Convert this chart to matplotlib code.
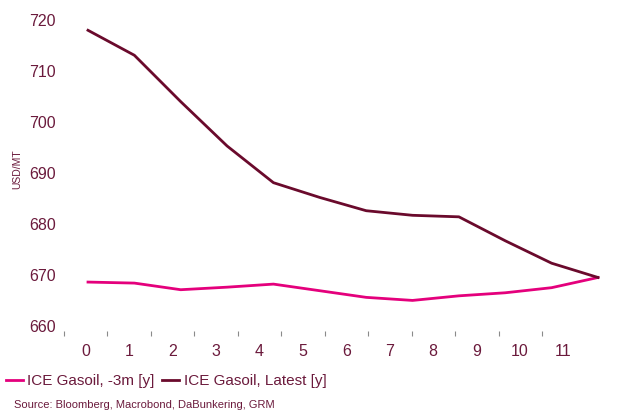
import matplotlib
matplotlib.use("Agg")
import matplotlib.pyplot as plt
from matplotlib.lines import Line2D

# Forward curve, contract months ahead
months = list(range(12))
gasoil_3m = [668.6, 668.4, 667.1, 667.6, 668.2, 666.9, 665.6, 665.0, 665.9, 666.5, 667.5, 669.5]
gasoil_latest = [718.0, 713.1, 704.0, 695.3, 688.1, 685.2, 682.6, 681.7, 681.4, 676.7, 672.3, 669.5]
x_tick_labels = [str(m) for m in months]
y_ticks = [660, 670, 680, 690, 700, 710, 720]

TEXT = "#6b1a3c"
PINK = "#e4007c"
MAROON = "#6a0a2c"

plt.rcParams["font.family"] = ["Liberation Sans", "DejaVu Sans"]

fig = plt.figure(figsize=(6.19, 4.12), dpi=100)
W, H = 619, 412
ax = fig.add_axes([64 / W, (H - 331) / H, (610 - 64) / W, (331 - 15) / H])

ax.plot(months, gasoil_3m, color=PINK, lw=2.0, solid_joinstyle="round")
ax.plot(months, gasoil_latest, color=MAROON, lw=2.0, solid_joinstyle="round")

unit = 46.36  # pixels per month on the plotting scale
ax.set_xlim(-(88 - 64) / unit, 11 + (610 - 598) / unit)
ax.set_ylim(659.0, 721.0)

for s in ax.spines.values():
    s.set_visible(False)

# category labels and band separators on the x axis
label_px = [85.5 + 43.45 * i for i in months]
sep_px = [64 + 43.45 * i for i in months]
ax.set_xticks([(p - 88) / unit for p in label_px])
ax.set_xticklabels(x_tick_labels)
ax.set_xticks([(p - 88) / unit for p in sep_px], minor=True)
ax.tick_params(axis="x", which="major", length=0, pad=9, labelsize=11.5, labelcolor=TEXT)
ax.tick_params(axis="x", which="minor", length=3.5, width=0.8, color="#8a8a8a", direction="out")

ax.set_yticks(y_ticks)
ax.tick_params(axis="y", length=0, pad=6, labelsize=11.5, labelcolor=TEXT)

fig.text(17 / W, 1 - 169 / H, "USD/MT", rotation=90, ha="center", va="center",
         fontsize=7.5, color=TEXT)

handles = [Line2D([], [], color=PINK, lw=2.0), Line2D([], [], color=MAROON, lw=2.0)]
leg = fig.legend(handles, ["ICE Gasoil, -3m [y]", "ICE Gasoil, Latest [y]"],
                 loc="center left", bbox_to_anchor=(6 / W, 1 - 381 / H), ncol=2,
                 frameon=False, fontsize=11, handlelength=1.1, handletextpad=0.3,
                 columnspacing=0.5, borderaxespad=0, borderpad=0)
for t in leg.get_texts():
    t.set_color(TEXT)

fig.text(14 / W, 1 - 404.5 / H, "Source: Bloomberg, Macrobond, DaBunkering, GRM",
         ha="left", va="center", fontsize=8, color=TEXT)

fig.savefig("out.png", dpi=100)
